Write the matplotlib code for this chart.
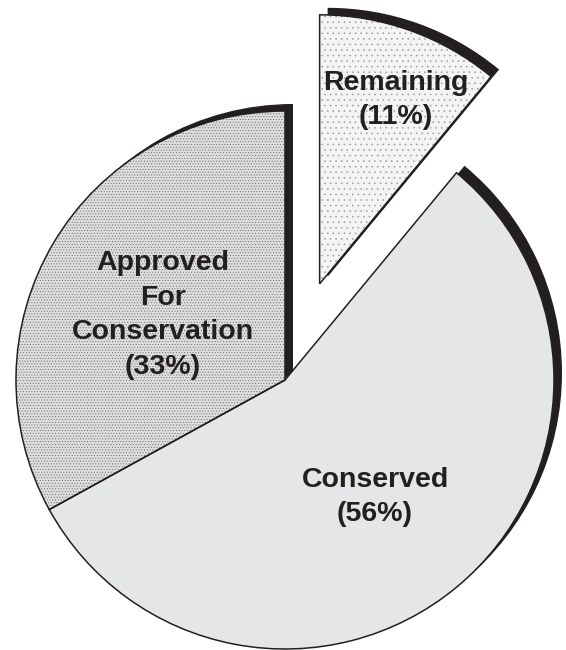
import matplotlib
matplotlib.use("Agg")
import matplotlib.pyplot as plt
from matplotlib.patches import Wedge
from matplotlib.transforms import offset_copy

labels = ["Approved\nFor\nConservation", "Conserved", "Remaining"]
shares = [33, 56, 11]
explode = [0, 0, 0.38]

ink = "#231f20"
fills = ["#dedede", "#e5e6e8", "#f4f4f4"]
hatches = ["......", None, "..."]
hatch_cols = ["#6e6e6e", "#e5e6e8", "#9a9a9a"]

plt.rcParams["hatch.linewidth"] = 0.4

fig = plt.figure(figsize=(5.66, 6.5), dpi=100)
ax = fig.add_axes([0, 0, 1, 1])

wedges, _ = ax.pie(shares, explode=explode, startangle=90, counterclock=True,
                   radius=1, colors=fills,
                   wedgeprops=dict(linewidth=0, edgecolor="none"))

# offset black copy of every slice gives the heavy edge on the upper right
shadow_tr = offset_copy(ax.transData, fig=fig, x=8, y=7, units="dots")
for w, h, hc in zip(wedges, hatches, hatch_cols):
    w.set_zorder(2)
    if h:
        w.set_hatch(h)
        w.set_edgecolor(hc)
    ax.add_patch(Wedge(w.center, w.r, w.theta1, w.theta2, facecolor=ink,
                       edgecolor="none", transform=shadow_tr, zorder=1))
    ax.add_patch(Wedge(w.center, w.r, w.theta1, w.theta2, fill=False,
                       edgecolor=ink, linewidth=1.1, zorder=3))

# label text
txt = dict(ha="center", va="center", fontsize=20.5, fontweight="bold",
           color=ink, family=["Liberation Sans", "DejaVu Sans"],
           linespacing=1.42, zorder=5)
ax.text(-0.454, 0.242, f"{labels[0]}\n({shares[0]}%)", **txt)
ax.text(0.335, -0.435, f"{labels[1]}\n({shares[1]}%)", **txt)
ax.text(0.413, 1.041, f"{labels[2]}\n({shares[2]}%)", **txt)

ax.set_aspect("equal")
ax.set_xlim(-285 / 269, (566 - 285) / 269)
ax.set_ylim(-270 / 269, (650 - 270) / 269)
ax.axis("off")

fig.savefig("out.png", dpi=100, facecolor="white")
